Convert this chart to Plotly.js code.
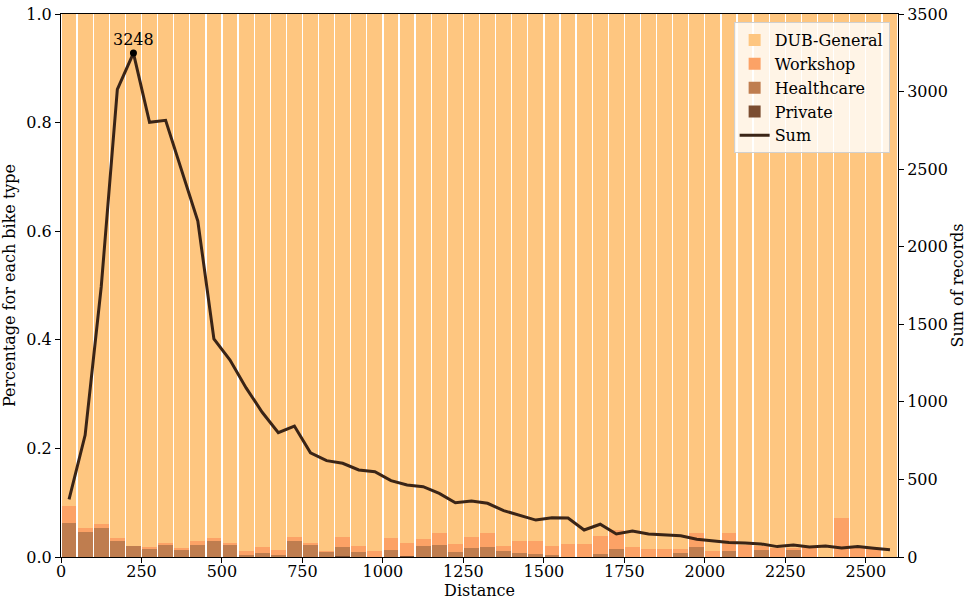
<!DOCTYPE html>
<html>
<head>
<meta charset="utf-8">
<script src="https://cdn.plot.ly/plotly-3.0.1.min.js"></script>
<style>
  html, body { margin: 0; padding: 0; background: #fff; }
  #chart { width: 973px; height: 609px; }
</style>
</head>
<body>
<div id="chart"></div>
<script>
// distance bins (centre of each 50 m bin)
var distancias = [25, 75, 125, 175, 225, 275, 325, 375, 425, 475, 525, 575, 625, 675, 725, 775, 825,
    875, 925, 975, 1025, 1075, 1125, 1175, 1225, 1275, 1325, 1375, 1425, 1475, 1525, 1575, 1625,
    1675, 1725, 1775, 1825, 1875, 1925, 1975, 2025, 2075, 2125, 2175, 2225, 2275, 2325, 2375,
    2425, 2475, 2525, 2575];

// share of each bike type per bin
var privado = [0, 0, 0, 0, 0, 0, 0, 0, 0, 0, 0, 0, 0, 0, 0, 0, 0, 0.002, 0, 0, 0, 0.002, 0, 0, 0, 0,
    0, 0, 0, 0, 0, 0, 0, 0, 0, 0, 0, 0, 0, 0, 0, 0, 0, 0, 0, 0, 0, 0, 0, 0, 0, 0];
var healthcare = [0.063, 0.046, 0.053, 0.029, 0.020, 0.015, 0.022, 0.013, 0.022, 0.029, 0.022,
    0.004, 0.007, 0.004, 0.029, 0.022, 0.009, 0.016, 0.009, 0, 0.013, 0, 0.020, 0.022, 0.009,
    0.017, 0.018, 0.011, 0.007, 0.006, 0.004, 0, 0, 0.006, 0.015, 0, 0, 0, 0.007, 0.018, 0,
    0.011, 0, 0.013, 0, 0.013, 0, 0, 0, 0, 0, 0];
var workshop = [0.031, 0.007, 0.008, 0.006, 0.001, 0.003, 0.004, 0.004, 0.007, 0.006, 0.004,
    0.007, 0.011, 0.009, 0.008, 0.004, 0.002, 0.019, 0.011, 0.011, 0.022, 0.024, 0.013, 0.022,
    0.015, 0.020, 0.026, 0.009, 0.022, 0.023, 0.016, 0.024, 0.024, 0.033, 0.034, 0.018, 0.015,
    0.015, 0.008, 0.026, 0.011, 0.033, 0.022, 0.007, 0.016, 0.004, 0.018, 0, 0.072, 0.017,
    0.015, 0];
var general = [0.906, 0.947, 0.939, 0.965, 0.979, 0.982, 0.974, 0.983, 0.971, 0.965, 0.974,
    0.989, 0.982, 0.987, 0.963, 0.974, 0.989, 0.963, 0.980, 0.989, 0.965, 0.974, 0.967, 0.956,
    0.976, 0.963, 0.956, 0.980, 0.971, 0.971, 0.980, 0.976, 0.976, 0.961, 0.951, 0.982, 0.985,
    0.985, 0.985, 0.956, 0.989, 0.956, 0.978, 0.980, 0.984, 0.983, 0.982, 1.000, 0.928, 0.983,
    0.985, 1.000];

// total records per bin
var suma = [372, 786, 1742, 3014, 3248, 2802, 2815, 2494, 2166, 1405, 1270, 1090, 933, 801, 844,
    672, 621, 604, 561, 550, 492, 464, 453, 410, 350, 361, 346, 299, 271, 238, 253, 251, 174,
    211, 148, 168, 148, 142, 137, 114, 103, 94, 90, 84, 67, 77, 64, 71, 58, 67, 56, 47];

var pico = 4; // bin with the maximum

var fuente = {family: 'DejaVu Serif, Liberation Serif, serif', size: 16, color: '#000'};

function barra(nombre, valores, color, rango){
    return {
        type: 'bar',
        name: nombre,
        x: distancias,
        y: valores,
        width: 46,   // small white gap between bins
        marker: {color: color, line: {width: 0}},
        legendrank: rango,
        hoverinfo: 'skip'
    };
}

var data = [
    barra('Private', privado, '#7B4D31', 4),
    barra('Healthcare', healthcare, '#BF7D4F', 3),
    barra('Workshop', workshop, '#FCA266', 2),
    barra('DUB-General', general, '#FEC680', 1),
    {
        type: 'scatter',
        mode: 'lines',
        name: 'Sum',
        x: distancias,
        y: suma,
        yaxis: 'y2',
        line: {color: '#3A2416', width: 3},
        legendrank: 5
    },
    {
        type: 'scatter',
        mode: 'markers',
        x: [distancias[pico]],
        y: [suma[pico]],
        yaxis: 'y2',
        marker: {color: '#000', size: 7},
        showlegend: false
    }
];

var ejeComun = {
    ticks: 'outside',
    ticklen: 5,
    tickcolor: '#000',
    showline: true,
    linecolor: '#000',
    linewidth: 1,
    showgrid: false,
    zeroline: false,
    tickfont: fuente
};

var layout = {
    width: 973,
    height: 609,
    margin: {l: 61, r: 75, t: 14, b: 52},
    paper_bgcolor: '#fff',
    plot_bgcolor: '#fff',
    font: fuente,
    barmode: 'stack',
    bargap: 0,
    showlegend: true,
    xaxis: Object.assign({}, ejeComun, {
        range: [0, 2600],
        tickvals: [0, 250, 500, 750, 1000, 1250, 1500, 1750, 2000, 2250, 2500],
        mirror: true,
        ticklabelstandoff: -5,
        title: {text: 'Distance', font: fuente, standoff: 2}
    }),
    yaxis: Object.assign({}, ejeComun, {
        range: [0, 1],
        dtick: 0.2,
        tickformat: '.1f',
        title: {text: 'Percentage for each bike type', font: fuente, standoff: 12}
    }),
    yaxis2: Object.assign({}, ejeComun, {
        range: [0, 3500],
        dtick: 500,
        overlaying: 'y',
        side: 'right',
        title: {text: 'Sum of records', font: fuente, standoff: 4}
    }),
    legend: {
        x: 0.99,
        xanchor: 'right',
        y: 0.985,
        yanchor: 'top',
        traceorder: 'normal',
        bgcolor: 'rgba(255,255,255,0.8)',
        bordercolor: '#d0d0d0',
        borderwidth: 1,
        font: fuente
    },
    annotations: [{
        x: distancias[pico],
        y: suma[pico],
        xref: 'x',
        yref: 'y2',
        text: String(suma[pico]),
        showarrow: false,
        yanchor: 'bottom',
        yshift: 2,
        font: fuente
    }]
};

Plotly.newPlot('chart', data, layout, {displayModeBar: false, staticPlot: true});
</script>
</body>
</html>
